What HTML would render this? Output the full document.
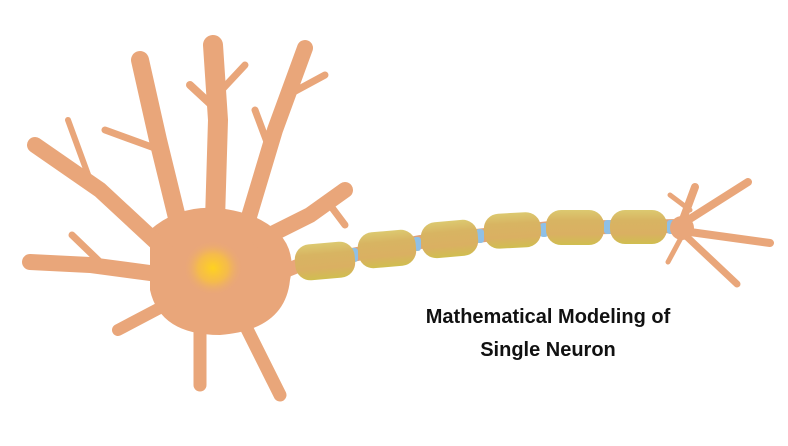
<!DOCTYPE html>
<html><head><meta charset="utf-8"><style>
html,body{margin:0;padding:0;background:#fff;width:788px;height:446px;overflow:hidden}
svg{display:block}
</style></head><body>
<svg width="788" height="446" viewBox="0 0 788 446">
<defs>
<radialGradient id="nuc" cx="0.5" cy="0.5" r="0.5">
<stop offset="0" stop-color="#FFD21F"/><stop offset="0.5" stop-color="#F8C040" stop-opacity="0.8"/><stop offset="1" stop-color="#E9A67A" stop-opacity="0"/>
</radialGradient>
<linearGradient id="my" x1="0" y1="0" x2="0" y2="1">
<stop offset="0" stop-color="#DCC970"/><stop offset="0.3" stop-color="#D8B462"/><stop offset="0.7" stop-color="#DAB062"/><stop offset="1" stop-color="#D0BE50"/>
</linearGradient>
</defs>
<g fill="#E9A67A" stroke="#E9A67A" stroke-linecap="round" stroke-linejoin="round">
<path d="M150,230 Q190,195 250,215 Q300,235 290,280 Q285,330 220,335 Q160,335 150,290 Z" stroke="none"/>
<polyline fill="none" stroke-width="18" points="180,230 158,140 140,60"/>
<polyline fill="none" stroke-width="7" points="160,150 105,130"/>
<polyline fill="none" stroke-width="20" points="215,220 218,120 213,45"/>
<polyline fill="none" stroke-width="8" points="217,110 190,85"/>
<polyline fill="none" stroke-width="7" points="217,95 245,65"/>
<polyline fill="none" stroke-width="16" points="245,230 275,130 305,48"/>
<polyline fill="none" stroke-width="7" points="288,95 325,75"/>
<polyline fill="none" stroke-width="7" points="270,150 255,110"/>
<polyline fill="none" stroke-width="16" points="260,240 310,215 345,190"/>
<polyline fill="none" stroke-width="7" points="330,205 345,225"/>
<polyline fill="none" stroke-width="16" points="170,255 100,190 35,145"/>
<polyline fill="none" stroke-width="6" points="90,180 68,120"/>
<polyline fill="none" stroke-width="16" points="165,275 90,265 30,262"/>
<polyline fill="none" stroke-width="7" points="100,262 72,235"/>
<polyline fill="none" stroke-width="12" points="175,300 118,330"/>
<polyline fill="none" stroke-width="13" points="200,315 200,385"/>
<polyline fill="none" stroke-width="13" points="240,315 280,395"/>
<polyline fill="none" stroke-width="14" points="275,275 300,265"/>
</g>
<ellipse cx="213" cy="268" rx="30" ry="28" fill="url(#nuc)"/>
<g>
<polyline fill="none" stroke="#DFA27A" stroke-width="14" points="300,265 420,242 550,228 680,226"/>
<g fill="#8FC0E6">
<rect x="350" y="248" width="8" height="14" rx="3"/>
<rect x="413" y="237" width="8" height="14" rx="3"/>
<rect x="476" y="229" width="8" height="14" rx="3"/>
<rect x="540" y="223" width="8" height="14" rx="3"/>
<rect x="604" y="220" width="8" height="14" rx="3"/>
<rect x="667" y="220" width="8" height="14" rx="3"/>
</g>
<g fill="url(#my)">
<rect x="295" y="243" width="60" height="36" rx="15" transform="rotate(-5 325 261)"/>
<rect x="358" y="231" width="58" height="36" rx="15" transform="rotate(-5 387 249)"/>
<rect x="421" y="221" width="57" height="36" rx="15" transform="rotate(-5 449 239)"/>
<rect x="484" y="213" width="57" height="35" rx="15" transform="rotate(-3 512 231)"/>
<rect x="546" y="210" width="58" height="35" rx="15"/>
<rect x="610" y="210" width="57" height="34" rx="15"/>
</g>
</g>
<g fill="none" stroke="#E9A67A" stroke-linecap="round" stroke-linejoin="round">
<ellipse cx="682" cy="228" rx="12" ry="12" fill="#E9A67A" stroke="none"/>
<polyline stroke-width="8" points="682,222 695,187"/>
<polyline stroke-width="5" points="690,210 670,195"/>
<polyline stroke-width="8" points="685,222 748,182"/>
<polyline stroke-width="8" points="690,232 770,243"/>
<polyline stroke-width="7" points="686,236 737,284"/>
<polyline stroke-width="5" points="682,236 668,262"/>
</g>
<g font-family="'Liberation Sans', sans-serif" font-weight="bold" font-size="20" fill="#111" text-anchor="middle">
<text x="548" y="323">Mathematical Modeling of</text>
<text x="548" y="356">Single Neuron</text>
</g>
</svg>
</body></html>
